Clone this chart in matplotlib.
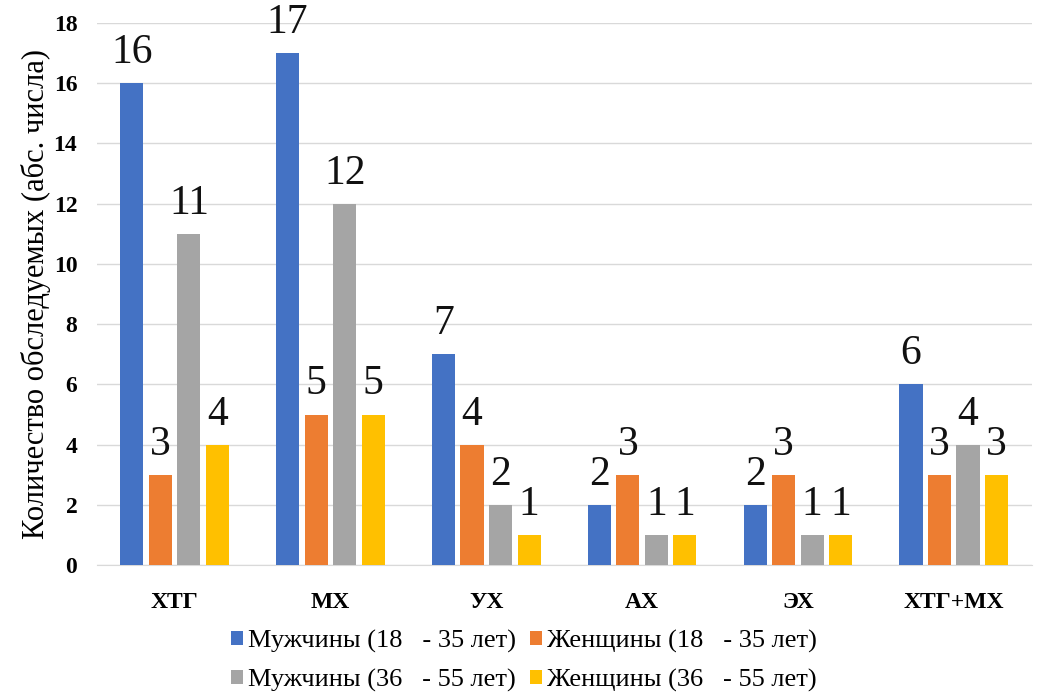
import numpy as np
import matplotlib.pyplot as plt

plt.rcParams['font.family'] = ['Liberation Serif', 'DejaVu Serif']

categories = ['ХТГ', 'МХ', 'УХ', 'АХ', 'ЭХ', 'ХТГ+МХ']
series_names = ['Мужчины (18   - 35 лет)', 'Женщины (18   - 35 лет)',
                'Мужчины (36   - 55 лет)', 'Женщины (36   - 55 лет)']
men_18_35 = [16, 17, 7, 2, 2, 6]
women_18_35 = [3, 5, 4, 3, 3, 3]
men_36_55 = [11, 12, 2, 1, 1, 4]
women_36_55 = [4, 5, 1, 1, 1, 3]
colors = ['#4472C4', '#ED7D31', '#A5A5A5', '#FFC000']

series = [men_18_35, women_18_35, men_36_55, women_36_55]

fig = plt.figure(figsize=(10.4, 6.96), dpi=100)
ax = fig.add_axes([0.093, 0.188, 0.899, 0.779])

x = np.arange(len(categories))
width = 0.148
step = 0.183
handles = []
for i, (vals, name, c) in enumerate(zip(series, series_names, colors)):
    pos = x + (i - 1.5) * step
    bars = ax.bar(pos, vals, width, color=c, label=name, zorder=3)
    ax.bar_label(bars, labels=[str(v) for v in vals], padding=8,
                 fontsize=30, color='#111111')
    handles.append(bars)

ax.set_xlim(-0.5, len(categories) - 0.5)
ax.set_ylim(0, 18)
ax.set_yticks(np.arange(0, 19, 2))
ax.set_xticks(x)
ax.set_xticklabels(categories, fontsize=17, fontweight='bold')
ax.tick_params(axis='y', labelsize=17, length=0, pad=14)
ax.tick_params(axis='x', length=0, pad=19)
for lbl in ax.get_yticklabels():
    lbl.set_fontweight('bold')
ax.grid(axis='y', color='#d9d9d9', linewidth=1, zorder=0)
for s in ['top', 'right', 'left']:
    ax.spines[s].set_visible(False)
ax.spines['bottom'].set_color('#d9d9d9')
ax.set_ylabel('Количество обследуемых (абс. числа)', fontsize=22, labelpad=2)

# legend fills column-wise, so interleave to get row-wise order
order = [0, 2, 1, 3]
ax.legend([handles[k] for k in order], [series_names[k] for k in order],
          loc='upper center', bbox_to_anchor=(0.457, -0.075), ncol=2,
          frameon=False, fontsize=19, handlelength=0.45, handleheight=0.45,
          handletextpad=0.2, columnspacing=0.5, labelspacing=0.6)

fig.savefig('out.png', dpi=100)
